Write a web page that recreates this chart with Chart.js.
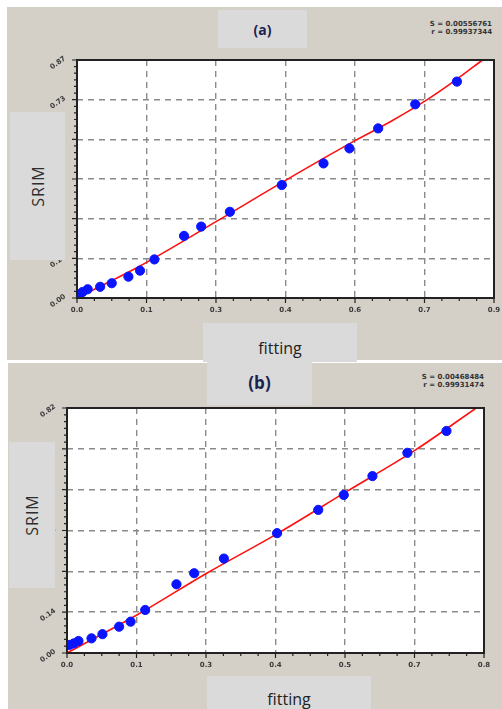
<!DOCTYPE html>
<html>
<head>
<meta charset="utf-8">
<script src="https://cdn.jsdelivr.net/npm/chart.js@4/dist/chart.umd.min.js"></script>
<style>
  body { margin: 0; background: #fff; width: 502px; height: 709px; position: relative; overflow: hidden; font-family: "Open Sans", sans-serif; }
  .panel { position: absolute; background: #d4d0c8; }
  .box { position: absolute; background: #dadada; display: flex; align-items: center; justify-content: center; }
  .stats { position: absolute; font-family: "DejaVu Sans", sans-serif; font-size: 7px; font-weight: bold; color: #333; text-align: right; line-height: 8px; }
  canvas { position: absolute; }
</style>
</head>
<body>
<div class="panel" style="left:7px;top:7px;width:495px;height:353px"></div>
<div class="panel" style="left:8px;top:363px;width:494px;height:346px"></div>

<canvas id="chartA" width="462" height="275" style="left:40px;top:50px"></canvas>
<canvas id="chartB" width="472" height="280" style="left:30px;top:398px"></canvas>

<div class="box" style="left:218px;top:10px;width:89px;height:38px;font-weight:bold;font-size:14px;color:#1c2350">(a)</div>
<div class="box" style="left:10px;top:112px;width:55px;height:148px"><span style="transform:rotate(-90deg);font-size:16px;color:#2e2e2e;letter-spacing:1px">SRIM</span></div>
<div class="box" style="left:203px;top:323px;width:154px;height:39px;font-size:16px;color:#222;padding-top:10px;box-sizing:border-box">fitting</div>
<div class="stats" style="right:10px;top:20px">S = 0.00556761<br>r = 0.99937344</div>

<div class="box" style="left:207px;top:360px;width:105px;height:45px;font-weight:bold;font-size:17px;color:#1c2350">(b)</div>
<div class="box" style="left:9px;top:442px;width:46px;height:146px"><span style="transform:rotate(-90deg);font-size:16px;color:#2e2e2e;letter-spacing:1px">SRIM</span></div>
<div class="box" style="left:207px;top:676px;width:164px;height:33px;font-size:16px;color:#222;padding-top:12px;box-sizing:border-box">fitting</div>
<div class="stats" style="right:18px;top:373px">S = 0.00468484<br>r = 0.99931474</div>

<script>
// panel (a)
var xA = [0.005, 0.012, 0.023, 0.050, 0.075, 0.111, 0.136, 0.167, 0.231, 0.268, 0.330, 0.442, 0.532, 0.588, 0.650, 0.730, 0.820];
var yA = [0.013, 0.022, 0.032, 0.041, 0.054, 0.078, 0.100, 0.141, 0.227, 0.261, 0.315, 0.413, 0.492, 0.547, 0.620, 0.708, 0.791];
var fitXA = [0, 0.136, 0.300, 0.451, 0.602, 0.680, 0.755, 0.820, 0.875];
var fitYA = [0, 0.117, 0.279, 0.431, 0.577, 0.648, 0.724, 0.800, 0.870];
var xTickLabelsA = ['0.0', '0.1', '0.3', '0.4', '0.6', '0.7', '0.9'];
var yTickLabelsA = ['0.00', '0.14', '0.29', '0.43', '0.58', '0.73', '0.87'];

// panel (b)
var xB = [0.0045, 0.013, 0.022, 0.047, 0.068, 0.100, 0.122, 0.150, 0.210, 0.244, 0.301, 0.403, 0.482, 0.531, 0.586, 0.653, 0.728];
var yB = [0.027, 0.032, 0.040, 0.049, 0.063, 0.088, 0.105, 0.144, 0.230, 0.267, 0.316, 0.401, 0.479, 0.529, 0.592, 0.670, 0.743];
var fitXB = [0, 0.134, 0.268, 0.402, 0.536, 0.668, 0.785];
var fitYB = [0, 0.127, 0.267, 0.398, 0.540, 0.679, 0.820];
var xTickLabelsB = ['0.0', '0.1', '0.3', '0.4', '0.5', '0.7', '0.8'];
var yTickLabelsB = ['0.00', '0.14', '0.27', '0.41', '0.55', '0.68', '0.82'];

function pts(xs, ys) {
  return xs.map(function (x, i) { return { x: x, y: ys[i] }; });
}

// white plot background, frame, tick marks and slanted labels
var axisPlugin = {
  id: 'axisDeco',
  beforeDraw: function (chart) {
    var a = chart.chartArea, c = chart.ctx;
    c.save();
    c.fillStyle = '#fff';
    c.fillRect(a.left, a.top, a.right - a.left, a.bottom - a.top);
    c.restore();
  },
  afterDraw: function (chart) {
    var c = chart.ctx, a = chart.chartArea;
    var o = chart.options.plugins.axisDeco;
    var xs = chart.scales.x, ys = chart.scales.y;
    c.save();
    c.strokeStyle = '#222';
    c.lineWidth = 2;
    c.strokeRect(a.left, a.top, a.right - a.left, a.bottom - a.top);
    c.lineWidth = 1.2;
    c.beginPath();
    var n = o.xLabels.length - 1;
    var dx = (xs.max - xs.min) / n;
    for (var i = 0; i <= n * 4; i++) {
      var px = xs.getPixelForValue(xs.min + dx * i / 4);
      c.moveTo(px, a.bottom);
      c.lineTo(px, a.bottom + (i % 4 === 0 ? 5 : 3));
    }
    var m = o.yLabels.length - 1;
    var dy = (ys.max - ys.min) / m;
    for (var j = 0; j <= m * 6; j++) {
      var py = ys.getPixelForValue(ys.min + dy * j / 6);
      c.moveTo(a.left, py);
      c.lineTo(a.left - (j % 6 === 0 ? 5 : 3), py);
    }
    c.stroke();
    c.fillStyle = '#3a3a3a';
    c.font = 'bold 7px "DejaVu Sans"';
    c.textAlign = 'center';
    c.textBaseline = 'middle';
    o.xLabels.forEach(function (t, i) {
      c.fillText(t, xs.getPixelForValue(xs.min + dx * i), a.bottom + 12);
    });
    o.yLabels.forEach(function (t, j) {
      c.save();
      c.translate(a.left - 19, ys.getPixelForValue(ys.min + dy * j) + 3);
      c.rotate(-35 * Math.PI / 180);
      c.fillText(t, 0, 0);
      c.restore();
    });
    c.restore();
  }
};

function makeChart(id, px, py, fx, fy, xMax, yMax, xl, yl, pad) {
  var xStep = xMax / (xl.length - 1), yStep = yMax / (yl.length - 1);
  return new Chart(document.getElementById(id), {
    type: 'scatter',
    data: {
      datasets: [
        { data: pts(fx, fy), showLine: true, borderColor: '#ff1010', borderWidth: 1.6, pointRadius: 0, cubicInterpolationMode: 'monotone', order: 2 },
        { data: pts(px, py), backgroundColor: '#0a14ff', borderColor: '#0a14ff', pointRadius: 4.6, order: 1 }
      ]
    },
    options: {
      responsive: false,
      animation: false,
      layout: { padding: pad, autoPadding: false },
      plugins: {
        legend: { display: false },
        tooltip: { enabled: false },
        axisDeco: { xLabels: xl, yLabels: yl }
      },
      scales: {
        x: {
          type: 'linear', min: 0, max: xMax,
          afterBuildTicks: function (s) { s.ticks = xl.map(function (t, i) { return { value: i * xStep }; }); },
          ticks: { display: false },
          grid: { color: '#8a8a8a', lineWidth: 1.4, drawTicks: false },
          border: { display: false, dash: [6, 5] }
        },
        y: {
          type: 'linear', min: 0, max: yMax,
          afterBuildTicks: function (s) { s.ticks = yl.map(function (t, i) { return { value: i * yStep }; }); },
          ticks: { display: false },
          grid: { color: '#8a8a8a', lineWidth: 1.4, drawTicks: false },
          border: { display: false, dash: [6, 5] }
        }
      }
    },
    plugins: [axisPlugin]
  });
}

makeChart('chartA', xA, yA, fitXA, fitYA, 0.9, 0.87, xTickLabelsA, yTickLabelsA,
  { left: 37, top: 10, right: 8, bottom: 27 });
makeChart('chartB', xB, yB, fitXB, fitYB, 0.8, 0.82, xTickLabelsB, yTickLabelsB,
  { left: 37, top: 10, right: 18, bottom: 25 });
</script>
</body>
</html>
